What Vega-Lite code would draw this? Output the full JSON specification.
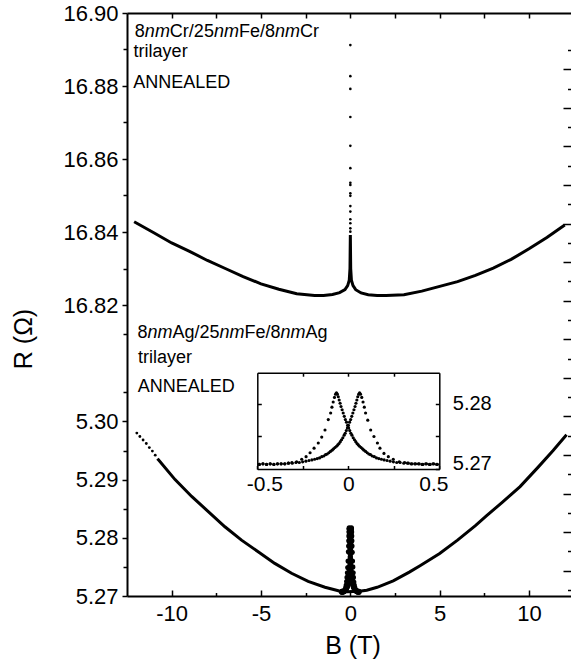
{
  "$schema": "https://vega.github.io/schema/vega-lite/v6.json",
  "width": 444,
  "height": 583,
  "autosize": {"type": "none"},
  "padding": {"left": 127, "top": 13, "right": 0, "bottom": 65},
  "background": "white",
  "config": {
    "view": {"stroke": null},
    "font": "Liberation Sans",
    "axis": {"labelFont": "Liberation Sans", "titleFont": "Liberation Sans", "labelColor": "black", "titleColor": "black", "tickColor": "black", "domainColor": "black", "grid": false, "titleFontWeight": "normal", "tickWidth": 1.5, "domainWidth": 1.5, "labelFlush": false, "labelOverlap": false}
  },
  "datasets": {
    "upper": [
      {"B": -12.1, "R": 16.8428}, {"B": -11, "R": 16.8398}, {"B": -10, "R": 16.837}, {"B": -9, "R": 16.8347}, {"B": -8, "R": 16.8322}, {"B": -7, "R": 16.83}, {"B": -6, "R": 16.8278}, {"B": -5, "R": 16.8258}, {"B": -4, "R": 16.8243}, {"B": -3, "R": 16.8231}, {"B": -2, "R": 16.8226}, {"B": -1.5, "R": 16.8226}, {"B": -1, "R": 16.8229}, {"B": -0.6, "R": 16.8234}, {"B": -0.3, "R": 16.8242}, {"B": -0.15, "R": 16.8253}, {"B": -0.06, "R": 16.8268}, {"B": -0.02, "R": 16.83}, {"B": 0, "R": 16.8392}, {"B": 0.02, "R": 16.83}, {"B": 0.06, "R": 16.8268}, {"B": 0.15, "R": 16.8253}, {"B": 0.3, "R": 16.8242}, {"B": 0.6, "R": 16.8233}, {"B": 1, "R": 16.8228}, {"B": 1.5, "R": 16.8226}, {"B": 2, "R": 16.8226}, {"B": 3, "R": 16.8228}, {"B": 4, "R": 16.8238}, {"B": 5, "R": 16.8251}, {"B": 6, "R": 16.8264}, {"B": 7, "R": 16.8281}, {"B": 8, "R": 16.8301}, {"B": 9, "R": 16.8325}, {"B": 10, "R": 16.8354}, {"B": 11, "R": 16.8385}, {"B": 12, "R": 16.8419}
    ],
    "upperDots": [
      {"B": 0, "R": 16.8912}, {"B": 0, "R": 16.8827}, {"B": 0, "R": 16.8792}, {"B": 0, "R": 16.8715}, {"B": 0, "R": 16.8636}, {"B": 0, "R": 16.8575}, {"B": 0, "R": 16.8535}, {"B": 0, "R": 16.8529}, {"B": 0, "R": 16.8506}, {"B": 0, "R": 16.8499}, {"B": 0, "R": 16.8471}, {"B": 0, "R": 16.8456}, {"B": 0, "R": 16.8435}, {"B": 0, "R": 16.8424}, {"B": 0, "R": 16.841}, {"B": 0, "R": 16.8401}
    ],
    "lower": [
      {"B": -10.8, "R": 5.2936}, {"B": -10.74, "R": 5.2934}, {"B": -9.81, "R": 5.29}, {"B": -8.88, "R": 5.2871}, {"B": -7.95, "R": 5.2845}, {"B": -7.02, "R": 5.2819}, {"B": -6.09, "R": 5.2796}, {"B": -5.16, "R": 5.2776}, {"B": -4.23, "R": 5.2756}, {"B": -3.29, "R": 5.2739}, {"B": -2.36, "R": 5.2725}, {"B": -1.42, "R": 5.2715}, {"B": -0.67, "R": 5.2709}, {"B": -0.5, "R": 5.2707}, {"B": 0.5, "R": 5.2708}, {"B": 0.92, "R": 5.271}, {"B": 1.5, "R": 5.2715}, {"B": 2.4, "R": 5.2726}, {"B": 3.3, "R": 5.2741}, {"B": 3.9, "R": 5.2752}, {"B": 5, "R": 5.2773}, {"B": 6, "R": 5.2796}, {"B": 7, "R": 5.2821}, {"B": 7.63, "R": 5.2838}, {"B": 8.5, "R": 5.2861}, {"B": 9.5, "R": 5.2888}, {"B": 10.5, "R": 5.2921}, {"B": 11.35, "R": 5.295}, {"B": 12.1, "R": 5.2977}
    ],
    "lowerDots": [
      {"B": -11.95, "R": 5.298}, {"B": -11.78, "R": 5.2974}, {"B": -11.6, "R": 5.2968}, {"B": -11.42, "R": 5.2962}, {"B": -11.25, "R": 5.2955}, {"B": -11.08, "R": 5.2949}, {"B": -10.92, "R": 5.2942}
    ],
    "zoom": [
      {"B": -0.49, "R": 5.2707}, {"B": -0.47, "R": 5.2708}, {"B": -0.45, "R": 5.2707}, {"B": -0.43, "R": 5.2708}, {"B": -0.41, "R": 5.2707}, {"B": -0.39, "R": 5.2708}, {"B": -0.37, "R": 5.2708}, {"B": -0.35, "R": 5.2708}, {"B": -0.33, "R": 5.2709}, {"B": -0.31, "R": 5.271},
      {"B": -0.284, "R": 5.2711}, {"B": -0.256, "R": 5.2715}, {"B": -0.232, "R": 5.2719}, {"B": -0.21, "R": 5.2725}, {"B": -0.188, "R": 5.2732}, {"B": -0.165, "R": 5.274}, {"B": -0.146, "R": 5.2749}, {"B": -0.128, "R": 5.276}, {"B": -0.11, "R": 5.2776}, {"B": -0.097, "R": 5.2786},
      {"B": -0.09, "R": 5.2795}, {"B": -0.083, "R": 5.2803}, {"B": -0.076, "R": 5.281}, {"B": -0.07, "R": 5.2815}, {"B": -0.065, "R": 5.2817},
      {"B": -0.06, "R": 5.2815}, {"B": -0.055, "R": 5.2811}, {"B": -0.05, "R": 5.2806}, {"B": -0.045, "R": 5.2801}, {"B": -0.04, "R": 5.2796}, {"B": -0.034, "R": 5.2791}, {"B": -0.028, "R": 5.2786}, {"B": -0.022, "R": 5.2781}, {"B": -0.016, "R": 5.2776}, {"B": -0.01, "R": 5.2772}, {"B": -0.004, "R": 5.2767}, {"B": 0.002, "R": 5.2763}, {"B": 0.008, "R": 5.2759}, {"B": 0.014, "R": 5.2755}, {"B": 0.02, "R": 5.2752}, {"B": 0.027, "R": 5.2748}, {"B": 0.034, "R": 5.2745}, {"B": 0.041, "R": 5.2742}, {"B": 0.048, "R": 5.2739}, {"B": 0.055, "R": 5.2737}, {"B": 0.062, "R": 5.2735}, {"B": 0.07, "R": 5.2733}, {"B": 0.078, "R": 5.2731}, {"B": 0.086, "R": 5.2729}, {"B": 0.095, "R": 5.2727}, {"B": 0.104, "R": 5.2725}, {"B": 0.113, "R": 5.2723}, {"B": 0.122, "R": 5.2722}, {"B": 0.132, "R": 5.272}, {"B": 0.143, "R": 5.2719}, {"B": 0.155, "R": 5.2717}, {"B": 0.168, "R": 5.2716}, {"B": 0.182, "R": 5.2715}, {"B": 0.197, "R": 5.2714}, {"B": 0.213, "R": 5.2713}, {"B": 0.23, "R": 5.2712}, {"B": 0.248, "R": 5.2711}, {"B": 0.266, "R": 5.271}, {"B": 0.285, "R": 5.271}, {"B": 0.305, "R": 5.2709}, {"B": 0.325, "R": 5.2709}, {"B": 0.345, "R": 5.2708}, {"B": 0.365, "R": 5.2708}, {"B": 0.385, "R": 5.2708}, {"B": 0.405, "R": 5.2707}, {"B": 0.425, "R": 5.2708}, {"B": 0.445, "R": 5.2707}, {"B": 0.465, "R": 5.2708}, {"B": 0.485, "R": 5.2707},
      {"B": 0.49, "R": 5.2707}, {"B": 0.47, "R": 5.2708}, {"B": 0.45, "R": 5.2707}, {"B": 0.43, "R": 5.2708}, {"B": 0.41, "R": 5.2707}, {"B": 0.39, "R": 5.2708}, {"B": 0.37, "R": 5.2708}, {"B": 0.35, "R": 5.2708}, {"B": 0.33, "R": 5.2709}, {"B": 0.31, "R": 5.271},
      {"B": 0.28, "R": 5.2711}, {"B": 0.247, "R": 5.2715}, {"B": 0.22, "R": 5.2719}, {"B": 0.196, "R": 5.2724}, {"B": 0.174, "R": 5.2732}, {"B": 0.16, "R": 5.274}, {"B": 0.141, "R": 5.275}, {"B": 0.123, "R": 5.276}, {"B": 0.107, "R": 5.2775}, {"B": 0.095, "R": 5.2786},
      {"B": 0.088, "R": 5.2795}, {"B": 0.081, "R": 5.2803}, {"B": 0.074, "R": 5.281}, {"B": 0.067, "R": 5.2815}, {"B": 0.062, "R": 5.2817},
      {"B": 0.057, "R": 5.2815}, {"B": 0.052, "R": 5.2811}, {"B": 0.047, "R": 5.2806}, {"B": 0.042, "R": 5.2801}, {"B": 0.037, "R": 5.2796}, {"B": 0.031, "R": 5.2791}, {"B": 0.025, "R": 5.2786}, {"B": 0.019, "R": 5.2781}, {"B": 0.013, "R": 5.2776}, {"B": 0.007, "R": 5.2772}, {"B": 0.001, "R": 5.2767}, {"B": -0.005, "R": 5.2763}, {"B": -0.011, "R": 5.2759}, {"B": -0.017, "R": 5.2755}, {"B": -0.023, "R": 5.2752}, {"B": -0.03, "R": 5.2748}, {"B": -0.037, "R": 5.2745}, {"B": -0.044, "R": 5.2742}, {"B": -0.051, "R": 5.2739}, {"B": -0.058, "R": 5.2737}, {"B": -0.065, "R": 5.2735}, {"B": -0.073, "R": 5.2733}, {"B": -0.081, "R": 5.2731}, {"B": -0.089, "R": 5.2729}, {"B": -0.098, "R": 5.2727}, {"B": -0.107, "R": 5.2725}, {"B": -0.116, "R": 5.2723}, {"B": -0.125, "R": 5.2722}, {"B": -0.135, "R": 5.272}, {"B": -0.146, "R": 5.2719}, {"B": -0.158, "R": 5.2717}, {"B": -0.171, "R": 5.2716}, {"B": -0.185, "R": 5.2715}, {"B": -0.2, "R": 5.2714}, {"B": -0.216, "R": 5.2713}, {"B": -0.233, "R": 5.2712}, {"B": -0.251, "R": 5.2711}, {"B": -0.269, "R": 5.271}, {"B": -0.288, "R": 5.271}, {"B": -0.308, "R": 5.2709}, {"B": -0.328, "R": 5.2709}, {"B": -0.348, "R": 5.2708}, {"B": -0.368, "R": 5.2708}, {"B": -0.388, "R": 5.2708}, {"B": -0.408, "R": 5.2707}, {"B": -0.428, "R": 5.2708}, {"B": -0.448, "R": 5.2707}, {"B": -0.468, "R": 5.2708}, {"B": -0.488, "R": 5.2707}
    ],
    "labels": [
      {"B": -12.06, "R": 16.8934, "grp": "Cr", "seg": 1, "text": "8"},
      {"B": -12.06, "R": 16.8934, "grp": "Cr", "seg": 2, "text": "nm"},
      {"B": -12.06, "R": 16.8934, "grp": "Cr", "seg": 3, "text": "Cr/25"},
      {"B": -12.06, "R": 16.8934, "grp": "Cr", "seg": 4, "text": "nm"},
      {"B": -12.06, "R": 16.8934, "grp": "Cr", "seg": 5, "text": "Fe/8"},
      {"B": -12.06, "R": 16.8934, "grp": "Cr", "seg": 6, "text": "nm"},
      {"B": -12.06, "R": 16.8934, "grp": "Cr", "seg": 7, "text": "Cr"},
      {"B": -12.13, "R": 16.8879, "grp": "Cr", "seg": 0, "text": "trilayer"},
      {"B": -12.15, "R": 16.8795, "grp": "Cr", "seg": 0, "text": "ANNEALED"},
      {"B": -11.91, "R": 5.3143, "grp": "Ag", "seg": 1, "text": "8"},
      {"B": -11.91, "R": 5.3143, "grp": "Ag", "seg": 2, "text": "nm"},
      {"B": -11.91, "R": 5.3143, "grp": "Ag", "seg": 3, "text": "Ag/25"},
      {"B": -11.91, "R": 5.3143, "grp": "Ag", "seg": 4, "text": "nm"},
      {"B": -11.91, "R": 5.3143, "grp": "Ag", "seg": 5, "text": "Fe/8"},
      {"B": -11.91, "R": 5.3143, "grp": "Ag", "seg": 6, "text": "nm"},
      {"B": -11.91, "R": 5.3143, "grp": "Ag", "seg": 7, "text": "Ag"},
      {"B": -11.88, "R": 5.31, "grp": "Ag", "seg": 0, "text": "trilayer"},
      {"B": -11.9, "R": 5.3051, "grp": "Ag", "seg": 0, "text": "ANNEALED"}
    ]
  },
  "resolve": {"scale": {"x": "independent", "y": "independent"}, "axis": {"x": "independent", "y": "independent"}},
  "layer": [
    {
      "data": {"name": "upper"},
      "mark": {"type": "line", "color": "black", "strokeWidth": 3},
      "encoding": {
        "x": {"field": "B", "type": "quantitative", "scale": {"domain": [-12.5, 12.35], "nice": false, "zero": false},
          "axis": {"orient": "bottom", "values": [-10, -5, 0, 5, 10], "tickSize": -6, "labelPadding": 13.4, "labelFontSize": 22, "labelExpr": "replace(datum.label, '\u2212', '-')", "domain": true, "domainWidth": 2, "title": "B (T)", "titleFontSize": 25, "titleX": 225.5, "titleY": 37, "titleBaseline": "top", "titleAlign": "center"}},
        "y": {"field": "R", "type": "quantitative", "scale": {"domain": [5.27, 5.32, 16.82, 16.9], "range": [583, 292, 292, 0], "nice": false, "zero": false},
          "axis": {"orient": "left", "values": [5.27, 5.28, 5.29, 5.3, 16.82, 16.84, 16.86, 16.88, 16.9], "format": ".2f", "tickSize": 5, "labelPadding": 4, "labelFontSize": 22, "domain": true, "domainWidth": 2, "title": "R (Ω)", "titleFontSize": 25, "titleAngle": -90, "titleX": -95.5, "titleY": 325.5, "titleAlign": "center", "titleBaseline": "alphabetic"}}
      }
    },
    {
      "data": {"name": "upperDots"},
      "mark": {"type": "point", "filled": true, "color": "black", "size": 7, "opacity": 1},
      "encoding": {
        "x": {"field": "B", "type": "quantitative", "scale": {"domain": [-12.5, 12.35], "nice": false, "zero": false}, "axis": null},
        "y": {"field": "R", "type": "quantitative", "scale": {"domain": [5.27, 5.32, 16.82, 16.9], "range": [583, 292, 292, 0], "nice": false, "zero": false}, "axis": null}
      }
    },
    {
      "data": {"name": "lower"},
      "mark": {"type": "line", "color": "black", "strokeWidth": 3},
      "encoding": {
        "x": {"field": "B", "type": "quantitative", "scale": {"domain": [-12.5, 12.35], "nice": false, "zero": false}, "axis": null},
        "y": {"field": "R", "type": "quantitative", "scale": {"domain": [5.27, 5.32, 16.82, 16.9], "range": [583, 292, 292, 0], "nice": false, "zero": false}, "axis": null}
      }
    },
    {
      "data": {"name": "lowerDots"},
      "mark": {"type": "point", "filled": true, "color": "black", "size": 8, "opacity": 1},
      "encoding": {
        "x": {"field": "B", "type": "quantitative", "scale": {"domain": [-12.5, 12.35], "nice": false, "zero": false}, "axis": null},
        "y": {"field": "R", "type": "quantitative", "scale": {"domain": [5.27, 5.32, 16.82, 16.9], "range": [583, 292, 292, 0], "nice": false, "zero": false}, "axis": null}
      }
    },
    {
      "data": {"name": "zoom"},
      "mark": {"type": "point", "filled": true, "color": "black", "size": 26, "opacity": 1},
      "encoding": {
        "x": {"field": "B", "type": "quantitative", "scale": {"domain": [-12.5, 12.35], "nice": false, "zero": false}, "axis": null},
        "y": {"field": "R", "type": "quantitative", "scale": {"domain": [5.27, 5.32, 16.82, 16.9], "range": [583, 292, 292, 0], "nice": false, "zero": false}, "axis": null}
      }
    },
    {
      "data": {"name": "labels"},
      "transform": [{"filter": "datum.seg % 2 == 1 || datum.seg == 0"}],
      "mark": {"type": "text", "align": "left", "baseline": "alphabetic", "fontSize": 18, "font": "Liberation Sans", "color": "black",
        "dx": {"expr": "datum.seg == 3 ? 35.01 : datum.seg == 5 ? (datum.grp == 'Ag' ? 107.05 : 104.02) : datum.seg == 7 ? (datum.grp == 'Ag' ? 168.07 : 165.04) : 0"}},
      "encoding": {
        "x": {"field": "B", "type": "quantitative", "scale": {"domain": [-12.5, 12.35], "nice": false, "zero": false}, "axis": null},
        "y": {"field": "R", "type": "quantitative", "scale": {"domain": [5.27, 5.32, 16.82, 16.9], "range": [583, 292, 292, 0], "nice": false, "zero": false}, "axis": null},
        "text": {"field": "text", "type": "nominal"}
      }
    },
    {
      "data": {"name": "labels"},
      "transform": [{"filter": "datum.seg % 2 == 0 && datum.seg > 0"}],
      "mark": {"type": "text", "align": "left", "baseline": "alphabetic", "fontSize": 18, "font": "Liberation Sans", "fontStyle": "italic", "color": "black",
        "dx": {"expr": "datum.seg == 2 ? 10.01 : datum.seg == 4 ? (datum.grp == 'Ag' ? 82.04 : 79.02) : (datum.grp == 'Ag' ? 143.06 : 140.04)"}},
      "encoding": {
        "x": {"field": "B", "type": "quantitative", "scale": {"domain": [-12.5, 12.35], "nice": false, "zero": false}, "axis": null},
        "y": {"field": "R", "type": "quantitative", "scale": {"domain": [5.27, 5.32, 16.82, 16.9], "range": [583, 292, 292, 0], "nice": false, "zero": false}, "axis": null},
        "text": {"field": "text", "type": "nominal"}
      }
    },
    {
      "data": {"name": "zoom"},
      "mark": {"type": "point", "filled": true, "color": "black", "size": 10, "opacity": 1},
      "encoding": {
        "x": {"field": "B", "type": "quantitative", "scale": {"domain": [-0.5, 0.5], "range": [130.3, 312.3], "nice": false, "zero": false},
          "axis": {"orient": "bottom", "offset": -127, "values": [-0.5, -0.25, 0, 0.25, 0.5], "labelExpr": "abs(datum.value) == 0.25 ? '' : replace(datum.label, '\u2212', '-')", "format": ".1~f", "tickSize": -3.5, "labelPadding": 8, "labelFontSize": 21, "domain": true, "domainWidth": 1.5, "title": null,
            "labelOffset": {"condition": [{"test": "datum.value < -0.4", "value": 7}, {"test": "datum.value > 0.4", "value": -6}], "value": 0}}},
        "y": {"field": "R", "type": "quantitative", "scale": {"domain": [5.27, 5.2848], "range": [456, 359.7], "nice": false, "zero": false},
          "axis": {"orient": "right", "offset": -131.7, "values": [5.27, 5.275, 5.28], "labelExpr": "datum.value == 5.275 ? '' : format(datum.value, '.2f')", "tickSize": -4, "labelPadding": 17, "labelFontSize": 20, "domain": true, "domainWidth": 1.5, "title": null,
            "labelOffset": {"condition": {"test": "datum.value < 5.272", "value": -6}, "value": 0}}}
      }
    },
    {
      "data": {"values": []},
      "mark": {"type": "point"},
      "encoding": {
        "x": {"field": "B", "type": "quantitative", "scale": {"domain": [-0.5, 0.5], "range": [130.3, 312.3], "nice": false, "zero": false},
          "axis": {"orient": "top", "offset": -359.7, "values": [-0.25, 0, 0.25], "tickSize": -3.5, "labels": false, "domain": true, "domainWidth": 1.5, "title": null}},
        "y": {"field": "R", "type": "quantitative", "scale": {"domain": [5.27, 5.2848], "range": [456, 359.7], "nice": false, "zero": false},
          "axis": {"orient": "left", "offset": -130.3, "values": [5.275, 5.28], "tickSize": -4, "labels": false, "domain": true, "domainWidth": 1.5, "title": null}}
      }
    },
    {
      "data": {"values": []},
      "mark": {"type": "point"},
      "encoding": {
        "x": {"field": "B", "type": "quantitative", "scale": {"domain": [-12.5, 12.35], "nice": false, "zero": false},
          "axis": {"orient": "bottom", "values": [-7.5, -2.5, 2.5, 7.5], "tickSize": -3.5, "labels": false, "domain": false, "title": null}},
        "y": {"field": "R", "type": "quantitative", "scale": {"domain": [5.27, 5.32, 16.82, 16.9], "range": [583, 292, 292, 0], "nice": false, "zero": false},
          "axis": {"orient": "left", "values": [5.275, 5.285, 5.295, 5.305, 5.315, 16.83, 16.85, 16.87, 16.89], "tickSize": 4, "labels": false, "domain": false, "title": null}}
      }
    },
    {
      "data": {"values": []},
      "mark": {"type": "point"},
      "encoding": {
        "x": {"field": "B", "type": "quantitative", "scale": {"domain": [-12.5, 12.35], "nice": false, "zero": false},
          "axis": {"orient": "top", "values": [-10, -7.5, -5, -2.5, 0, 2.5, 5, 7.5, 10], "tickSize": -5, "labels": false, "domain": true, "domainWidth": 2, "title": null}},
        "y": {"field": "R", "type": "quantitative", "scale": {"domain": [-0.156, 14.96], "nice": false, "zero": false},
          "axis": {"orient": "right", "values": [0.5, 1.5, 2.5, 3.5, 4.5, 5.5, 6.5, 7.5, 8.5, 9.5, 10.5, 11.5, 12.5, 13.5], "tickSize": -8, "labels": false, "domain": false, "title": null}}
      }
    },
    {
      "data": {"values": []},
      "mark": {"type": "point"},
      "encoding": {
        "y": {"field": "R", "type": "quantitative", "scale": {"domain": [-0.156, 14.96], "nice": false, "zero": false},
          "axis": {"orient": "right", "values": [0, 1, 2, 3, 4, 5, 6, 7, 8, 9, 10, 11, 12, 13, 14], "tickSize": -3.5, "labels": false, "domain": false, "title": null}}
      }
    }
  ]
}
